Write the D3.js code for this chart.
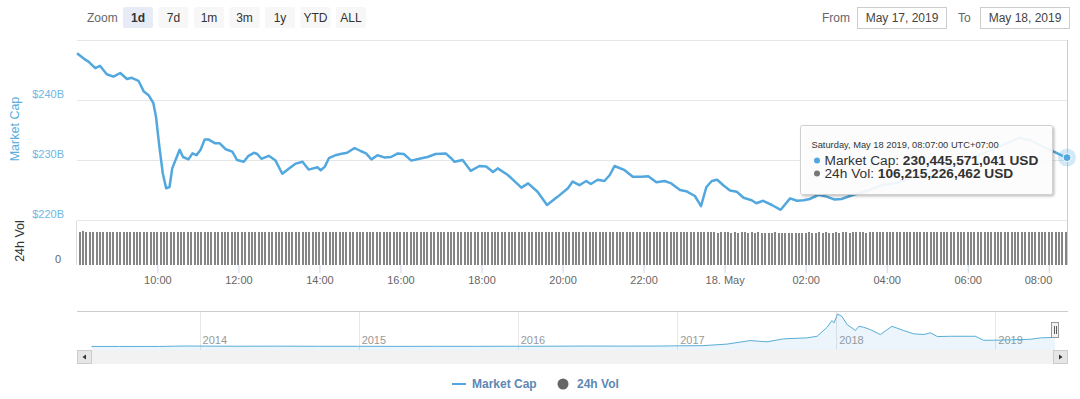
<!DOCTYPE html>
<html>
<head>
<meta charset="utf-8">
<script src="https://cdn.jsdelivr.net/npm/d3@7"></script>
<style>
  body { margin: 0; background: #fff; }
  svg { display: block; font-family: "Liberation Sans", Arial, sans-serif; }
</style>
</head>
<body>
<svg id="chart" width="1080" height="399"></svg>
<script>
// market cap, May 17-18 2019 (billions USD)
const capTimes = [
    '17 08:01', '17 08:11', '17 08:18', '17 08:28', '17 08:35', '17 08:45', '17 08:55', '17 09:05',
    '17 09:15', '17 09:22', '17 09:32', '17 09:40', '17 09:47', '17 09:54', '17 09:58', '17 10:03',
    '17 10:08', '17 10:13', '17 10:18', '17 10:22', '17 10:28', '17 10:33', '17 10:38', '17 10:46',
    '17 10:52', '17 10:58', '17 11:04', '17 11:10', '17 11:16', '17 11:25', '17 11:32', '17 11:41',
    '17 11:51', '17 11:58', '17 12:08', '17 12:15', '17 12:23', '17 12:28', '17 12:34', '17 12:45',
    '17 12:55', '17 13:05', '17 13:15', '17 13:25', '17 13:35', '17 13:44', '17 13:57', '17 14:02',
    '17 14:08', '17 14:14', '17 14:24', '17 14:31', '17 14:41', '17 14:52', '17 15:01', '17 15:09',
    '17 15:17', '17 15:26', '17 15:37', '17 15:46', '17 15:56', '17 16:05', '17 16:16', '17 16:28',
    '17 16:40', '17 16:52', '17 17:07', '17 17:15', '17 17:20', '17 17:32', '17 17:44', '17 17:57',
    '17 18:07', '17 18:17', '17 18:24', '17 18:39', '17 18:59', '17 19:09', '17 19:23', '17 19:37',
    '17 19:53', '17 20:08', '17 20:15', '17 20:25', '17 20:35', '17 20:42', '17 20:52', '17 21:02',
    '17 21:10', '17 21:17', '17 21:32', '17 21:44', '17 21:57', '17 22:07', '17 22:19', '17 22:31',
    '17 22:41', '17 22:54', '17 23:03', '17 23:16', '17 23:25', '17 23:33', '17 23:41', '17 23:49',
    '17 23:58', '18 00:08', '18 00:18', '18 00:28', '18 00:40', '18 00:47', '18 00:57', '18 01:10',
    '18 01:23', '18 01:37', '18 01:47', '18 01:57', '18 02:06', '18 02:19', '18 02:31', '18 02:43',
    '18 02:53', '18 03:11', '18 03:30', '18 03:53', '18 04:15', '18 04:37', '18 05:07', '18 05:37',
    '18 06:06', '18 06:36', '18 06:58', '18 07:17', '18 07:35', '18 07:55', '18 08:09', '18 08:18',
    '18 08:27'
];
const capValues = [
    247.8, 246.9, 246.4, 245.3, 245.7, 244.3, 243.9, 244.5,
    243.5, 243.7, 243.2, 241.4, 240.8, 239.5, 237.2, 232.2,
    227.8, 225.3, 225.5, 228.6, 230.3, 231.7, 230.5, 230.1,
    231.1, 230.8, 231.7, 233.4, 233.4, 232.8, 232.8, 231.8,
    231.4, 230.0, 229.7, 230.7, 231.2, 231.0, 230.2, 230.7,
    229.9, 227.7, 228.6, 229.4, 229.7, 228.4, 228.8, 228.3,
    228.9, 230.3, 230.8, 231.0, 231.2, 232.0, 231.5, 231.1,
    230.1, 230.8, 230.4, 230.5, 231.1, 231.0, 229.9, 230.2,
    230.5, 231.0, 231.1, 230.3, 229.7, 230.0, 228.2, 229.0,
    228.9, 228.0, 228.6, 227.5, 225.4, 226.1, 224.7, 222.5,
    223.9, 225.3, 226.4, 225.8, 226.5, 226.0, 226.7, 226.5,
    227.5, 229.0, 228.3, 227.2, 227.2, 227.3, 226.3, 226.5,
    226.1, 225.0, 224.8, 224.0, 222.3, 225.5, 226.5, 226.7,
    225.8, 224.9, 224.7, 223.7, 223.3, 222.8, 223.2, 222.5,
    221.7, 223.6, 223.2, 223.3, 223.5, 224.2, 223.9, 223.4,
    223.5, 224.2, 224.8, 225.8, 226.2, 227.0, 228.0, 229.0,
    230.3, 231.7, 232.8, 233.7, 233.2, 232.0, 231.3, 230.8,
    230.4
];
const capTicks = [220, 230, 240, 250];

// 24h volume every 5 minutes from 08:05 (billions USD)
const volStart = '17 08:05';
const volValues = [
    108.9, 109.1, 108.7, 108.8, 108.6, 108.9, 108.5, 108.7, 108.4, 108.6, 108.3,
    108.2, 108.4, 108.0, 108.3, 107.9, 108.1, 107.8, 108.0, 107.6, 107.9, 107.5, 107.7,
    107.2, 106.8, 106.5, 106.9, 106.4, 106.7, 106.2, 106.6, 106.8, 107.0, 106.9, 107.2,
    107.4, 107.3, 107.6, 107.5, 107.8, 107.6, 107.9, 107.7, 108.0, 107.8, 108.1, 107.9,
    108.0, 108.2, 107.9, 108.1, 107.8, 108.0, 108.2, 107.9, 108.1, 108.3, 108.0, 108.2,
    108.1, 107.9, 108.2, 108.0, 108.3, 108.1, 107.9, 108.2, 108.0, 108.3, 108.1, 108.4,
    108.2, 108.5, 108.3, 108.6, 108.4, 108.2, 108.5, 108.3, 108.6, 108.4, 108.7, 108.5,
    108.6, 108.4, 108.7, 108.5, 108.3, 108.6, 108.4, 108.7, 108.5, 108.8, 108.6, 108.4,
    108.5, 108.3, 108.6, 108.4, 108.2, 108.5, 108.3, 108.1, 108.4, 108.2, 108.0, 108.3,
    108.1, 107.9, 108.2, 108.0, 107.8, 108.1, 107.9, 107.7, 108.0, 107.8, 107.6, 107.9,
    107.7, 107.5, 107.8, 107.6, 107.4, 107.7, 107.5, 107.3, 107.6, 107.4, 107.2, 107.5,
    107.3, 107.1, 107.4, 107.2, 107.0, 107.3, 107.1, 106.9, 107.2, 107.0, 106.8, 107.1,
    107.2, 107.4, 107.1, 107.3, 107.5, 107.2, 107.4, 107.1, 107.3, 107.0, 107.2, 106.9,
    107.1, 106.8, 107.0, 106.7, 106.9, 107.1, 106.8, 107.0, 106.7, 106.9, 106.6, 106.8,
    106.7, 106.5, 106.8, 106.6, 106.4, 106.7, 106.5, 106.3, 106.6, 106.4, 106.2, 106.5,
    106.3, 106.1, 106.4, 106.2, 106.0, 106.3, 106.1, 105.9, 106.2, 106.0, 105.8, 106.1,
    105.9, 106.1, 105.8, 106.0, 105.7, 105.9, 106.1, 105.8, 106.0, 105.7, 105.9, 105.6,
    105.8, 105.5, 105.7, 105.9, 105.6, 105.8, 105.5, 105.7, 105.4, 105.6, 105.8, 105.5,
    105.7, 105.9, 105.6, 105.8, 106.0, 105.7, 105.9, 105.6, 105.8, 106.0, 105.7, 105.9,
    106.1, 105.8, 106.0, 106.2, 105.9, 106.1, 105.8, 106.0, 106.2, 105.9, 106.1, 106.3,
    106.0, 106.2, 105.9, 106.1, 106.3, 106.0, 106.2, 105.9, 106.1, 106.3, 106.0, 106.2,
    106.4, 106.1, 106.3, 106.0, 106.2, 106.4, 106.1, 106.3, 106.0, 106.2, 106.4, 106.1,
    106.3, 106.0, 106.2, 106.4, 106.1, 106.3, 106.0, 106.2, 106.4, 106.1, 106.3, 106.0,
    106.2, 106.4, 106.1, 106.3, 106.0, 106.2, 106.4, 106.1, 106.3, 106.0, 106.2, 106.4,
    106.1, 106.3, 106.2, 106.0, 106.2, 106.2
];

// navigator: whole history of market cap (billions USD)
const navDates = [
    '2013-04-28', '2013-07-01', '2013-10-01', '2013-11-30', '2014-01-01', '2014-04-01', '2014-07-01',
    '2014-10-01', '2015-01-01', '2015-04-01', '2015-07-01', '2015-10-01', '2015-12-01', '2016-03-01',
    '2016-06-15', '2016-09-01', '2016-12-01', '2017-01-04', '2017-03-01', '2017-04-25', '2017-06-18',
    '2017-07-26', '2017-09-02', '2017-10-26', '2017-11-18', '2017-12-11', '2017-12-22', '2017-12-27',
    '2018-01-04', '2018-01-14', '2018-01-26', '2018-02-06', '2018-02-14', '2018-02-22', '2018-03-05',
    '2018-03-20', '2018-04-12', '2018-05-09', '2018-06-05', '2018-06-28', '2018-07-21', '2018-08-05',
    '2018-08-21', '2018-09-20', '2018-11-16', '2018-12-05', '2018-12-28', '2019-02-05', '2019-03-23',
    '2019-04-15', '2019-05-18'
];
const navValues = [
    1.6, 1.0, 1.6, 13.0, 10.5, 6.5, 8.8,
    5.3, 4.8, 3.6, 4.4, 4.0, 6.6, 6.8,
    11.5, 9.5, 11.9, 18.1, 21.0, 60, 150,
    118, 193, 218, 258, 485, 653, 595,
    820, 760, 552, 470, 402, 510, 485,
    427, 302, 510, 402, 319, 302, 344,
    251, 258, 258, 158, 158, 168, 183,
    218, 230
];

const zoomButtons = ['1d', '7d', '1m', '3m', '1y', 'YTD', 'ALL'];
const selectedButton = '1d';
const fromDate = 'May 17, 2019';
const toDate = 'May 18, 2019';
const tooltipHeader = 'Saturday, May 18 2019, 08:07:00 UTC+07:00';
const tooltipCap = '230,445,571,041 USD';
const tooltipVol = '106,215,226,462 USD';

const colors = {
    cap: '#52a8de',
    capLabel: '#6fb6e3',
    vol: '#7d7d7d',
    grid: '#e6e6e6',
    text: '#666666',
    legend: '#5d88b3'
};

const svg = d3.select('#chart');
const parseTime = d3.timeParse('%Y-%m-%d %H:%M');
const toTime = (s) => parseTime('2019-05-' + s);

const x = d3.scaleTime()
    .domain([toTime('17 08:01'), toTime('18 08:27')])
    .range([77, 1067]);
const y = d3.scaleLinear().domain([220, 250]).range([220, 40]);
const yVol = d3.scaleLinear().domain([0, 140]).range([265, 222]);

function renderControls() {
    svg.append('text').attr('x', 87).attr('y', 22)
        .attr('font-size', 12).attr('fill', colors.text).text('Zoom');

    const buttons = svg.append('g').selectAll('g').data(zoomButtons).enter().append('g')
        .attr('transform', (d, i) => `translate(${123 + i * 35.5},7)`);
    buttons.append('rect').attr('width', 30).attr('height', 21).attr('rx', 2)
        .attr('fill', (d) => d === selectedButton ? '#e6ebf5' : '#f7f7f7');
    buttons.append('text').attr('x', 15).attr('y', 15).attr('text-anchor', 'middle')
        .attr('font-size', 12).attr('fill', '#333')
        .attr('font-weight', (d) => d === selectedButton ? 'bold' : 'normal')
        .text((d) => d);

    // date inputs
    svg.append('text').attr('x', 822).attr('y', 22).attr('font-size', 12).attr('fill', colors.text).text('From');
    svg.append('text').attr('x', 958).attr('y', 22).attr('font-size', 12).attr('fill', colors.text).text('To');
    [[857.5, fromDate], [980.5, toDate]].forEach(([bx, label]) => {
        svg.append('rect').attr('x', bx).attr('y', 7.5).attr('width', 89).attr('height', 21)
            .attr('fill', '#fff').attr('stroke', '#cccccc');
        svg.append('text').attr('x', bx + 44.5).attr('y', 22).attr('text-anchor', 'middle')
            .attr('font-size', 12).attr('fill', '#444').text(label);
    });
}

function renderMainPane() {
    const grid = svg.append('g');
    grid.selectAll('line').data(capTicks).enter().append('line')
        .attr('x1', 77).attr('x2', 1068)
        .attr('y1', (d) => Math.round(y(d)) + 0.5).attr('y2', (d) => Math.round(y(d)) + 0.5)
        .attr('stroke', colors.grid);

    // top grid line has no label
    grid.selectAll('text').data(capTicks.slice(0, -1)).enter().append('text')
        .attr('x', 64).attr('y', (d) => y(d) - 2.5)
        .attr('text-anchor', 'end').attr('font-size', 11).attr('fill', colors.capLabel)
        .text((d) => '$' + d + 'B');

    svg.append('text')
        .attr('transform', 'translate(15,129) rotate(-90)')
        .attr('dy', '0.35em').attr('text-anchor', 'middle')
        .attr('font-size', 12.5).attr('fill', '#5aade0').text('Market Cap');

    const line = d3.line().x((d, i) => x(toTime(capTimes[i]))).y((d) => y(d));
    svg.append('path').datum(capValues)
        .attr('d', line)
        .attr('fill', 'none').attr('stroke', colors.cap).attr('stroke-width', 2.5)
        .attr('stroke-linejoin', 'round');
}

function renderVolumePane() {
    svg.append('line').attr('x1', 76.5).attr('x2', 76.5).attr('y1', 221).attr('y2', 265)
        .attr('stroke', '#dddddd');

    const start = toTime(volStart);
    svg.append('g').attr('shape-rendering', 'crispEdges')
        .selectAll('rect').data(volValues).enter().append('rect')
        .attr('x', (d, i) => Math.round(x(d3.timeMinute.offset(start, i * 5)) - 1))
        .attr('y', (d) => yVol(d))
        .attr('width', 2)
        .attr('height', (d) => yVol(0) - yVol(d))
        .attr('fill', '#858585');

    svg.append('text').attr('x', 61).attr('y', yVol(0) - 2)
        .attr('text-anchor', 'end').attr('font-size', 11).attr('fill', colors.text).text('0');

    svg.append('text')
        .attr('transform', 'translate(20,241) rotate(-90)')
        .attr('dy', '0.35em').attr('text-anchor', 'middle')
        .attr('font-size', 12.5).attr('fill', '#333').text('24h Vol');

    const ticks = d3.timeHour.every(2).range(x.domain()[0], x.domain()[1]);
    const fmt = (d) => d.getHours() === 0 ? d3.timeFormat('%-d. %b')(d) : d3.timeFormat('%H:%M')(d);
    const axis = svg.append('g').attr('transform', 'translate(0,265)')
        .call(d3.axisBottom(x).tickValues(ticks).tickFormat(fmt).tickSize(8).tickPadding(3));
    axis.select('.domain').remove();
    axis.selectAll('.tick line').attr('stroke', '#ccd6eb');
    axis.selectAll('.tick text').attr('fill', colors.text).attr('font-size', 11)
        .attr('font-family', '"Liberation Sans", Arial, sans-serif');
    // last label is kept inside the plot
    axis.select('.tick:last-of-type text').attr('text-anchor', 'end').attr('x', 3);
}

function renderNavigator() {
    const nx = d3.scaleTime()
        .domain([new Date(2013, 3, 28), new Date(2019, 4, 18)])
        .range([91.5, 1055]);
    const ny = d3.scaleLinear().domain([0, 820]).range([346.5, 314]);
    const dates = navDates.map(d3.timeParse('%Y-%m-%d'));

    svg.append('line').attr('x1', 77).attr('x2', 1068).attr('y1', 311.5).attr('y2', 311.5)
        .attr('stroke', '#cccccc');

    const years = d3.timeYear.range(new Date(2014, 0, 1), new Date(2019, 1, 1));
    const yg = svg.append('g');
    yg.selectAll('line').data(years).enter().append('line')
        .attr('x1', (d) => Math.round(nx(d)) + 0.5).attr('x2', (d) => Math.round(nx(d)) + 0.5)
        .attr('y1', 312).attr('y2', 350).attr('stroke', colors.grid);

    const area = d3.area().x((d, i) => nx(dates[i])).y0(350).y1((d) => ny(d));
    svg.append('path').datum(navValues).attr('d', area).attr('fill', 'rgba(90,170,220,0.12)');
    const line = d3.line().x((d, i) => nx(dates[i])).y((d) => ny(d));
    svg.append('path').datum(navValues).attr('d', line)
        .attr('fill', 'none').attr('stroke', '#5aaed6').attr('stroke-width', 1);

    yg.selectAll('text').data(years).enter().append('text')
        .attr('x', (d) => nx(d) + 3).attr('y', 344)
        .attr('font-size', 11).attr('fill', '#999999')
        .text((d) => d.getFullYear());

    // handle at selected range
    const hx = nx(new Date(2019, 4, 18));
    svg.append('rect').attr('x', hx - 3.5).attr('y', 322.5).attr('width', 7).attr('height', 15)
        .attr('fill', '#f2f2f2').attr('stroke', '#999');
    [-1, 1].forEach((o) => {
        svg.append('line').attr('x1', hx + o + 0.5).attr('x2', hx + o + 0.5).attr('y1', 326).attr('y2', 334)
            .attr('stroke', '#333').attr('stroke-width', 0.8);
    });

    // scrollbar
    svg.append('rect').attr('x', 77).attr('y', 350).attr('width', 991).attr('height', 14).attr('fill', '#f2f2f2');
    [[77, -1], [1053, 1]].forEach(([bx, dir]) => {
        svg.append('rect').attr('x', bx + 0.5).attr('y', 350.5).attr('width', 14).attr('height', 13)
            .attr('fill', '#e6e6e6').attr('stroke', '#cccccc');
        const cx = bx + 7.5;
        svg.append('path')
            .attr('d', `M${cx + dir * 2},357 L${cx - dir * 1.5},354.5 L${cx - dir * 1.5},359.5 Z`)
            .attr('fill', '#333');
    });
}

function renderLegend() {
    svg.append('line').attr('x1', 452).attr('x2', 466).attr('y1', 384).attr('y2', 384)
        .attr('stroke', colors.cap).attr('stroke-width', 2);
    svg.append('text').attr('x', 472).attr('y', 388).attr('font-size', 12).attr('font-weight', 'bold')
        .attr('fill', colors.legend).text('Market Cap');
    svg.append('circle').attr('cx', 563).attr('cy', 384).attr('r', 5.5).attr('fill', '#666');
    svg.append('text').attr('x', 577).attr('y', 388).attr('font-size', 12).attr('font-weight', 'bold')
        .attr('fill', colors.legend).text('24h Vol');
}

function renderTooltip() {
    const last = capValues.length - 1;
    const px = x(toTime(capTimes[last]));
    const py = y(capValues[last]);

    svg.append('line').attr('x1', Math.round(px) + 0.5).attr('x2', Math.round(px) + 0.5)
        .attr('y1', 40).attr('y2', 265).attr('stroke', '#cccccc');
    svg.append('circle').attr('cx', px).attr('cy', py).attr('r', 9)
        .attr('fill', colors.cap).attr('opacity', 0.25);
    svg.append('circle').attr('cx', px).attr('cy', py).attr('r', 4)
        .attr('fill', colors.cap).attr('stroke', '#fff').attr('stroke-width', 1);

    const defs = svg.append('defs');
    defs.append('filter').attr('id', 'shadow').attr('x', '-10%').attr('y', '-10%')
        .attr('width', '130%').attr('height', '140%')
        .append('feDropShadow').attr('dx', 1.5).attr('dy', 1.5).attr('stdDeviation', 1.2)
        .attr('flood-opacity', 0.25);

    const tip = svg.append('g').attr('transform', 'translate(800.5,125.5)');
    tip.append('rect').attr('width', 252).attr('height', 69).attr('rx', 2)
        .attr('fill', 'rgba(255,255,255,0.9)').attr('stroke', '#d0d0d0')
        .attr('filter', 'url(#shadow)');
    tip.append('text').attr('x', 11).attr('y', 22).attr('font-size', 9.3).attr('fill', '#333')
        .text(tooltipHeader);

    [[colors.cap, 'Market Cap: ', tooltipCap, 39.5], ['#777', '24h Vol: ', tooltipVol, 52.5]].forEach(([c, name, val, ty]) => {
        tip.append('circle').attr('cx', 16.5).attr('cy', ty - 4.5).attr('r', 3).attr('fill', c);
        const t = tip.append('text').attr('x', 24).attr('y', ty).attr('font-size', 13.7).attr('fill', '#333');
        t.append('tspan').text(name);
        t.append('tspan').attr('font-weight', 'bold').text(val);
    });
}

renderControls();
renderMainPane();
renderVolumePane();
renderNavigator();
renderLegend();
renderTooltip();
</script>
</body>
</html>
